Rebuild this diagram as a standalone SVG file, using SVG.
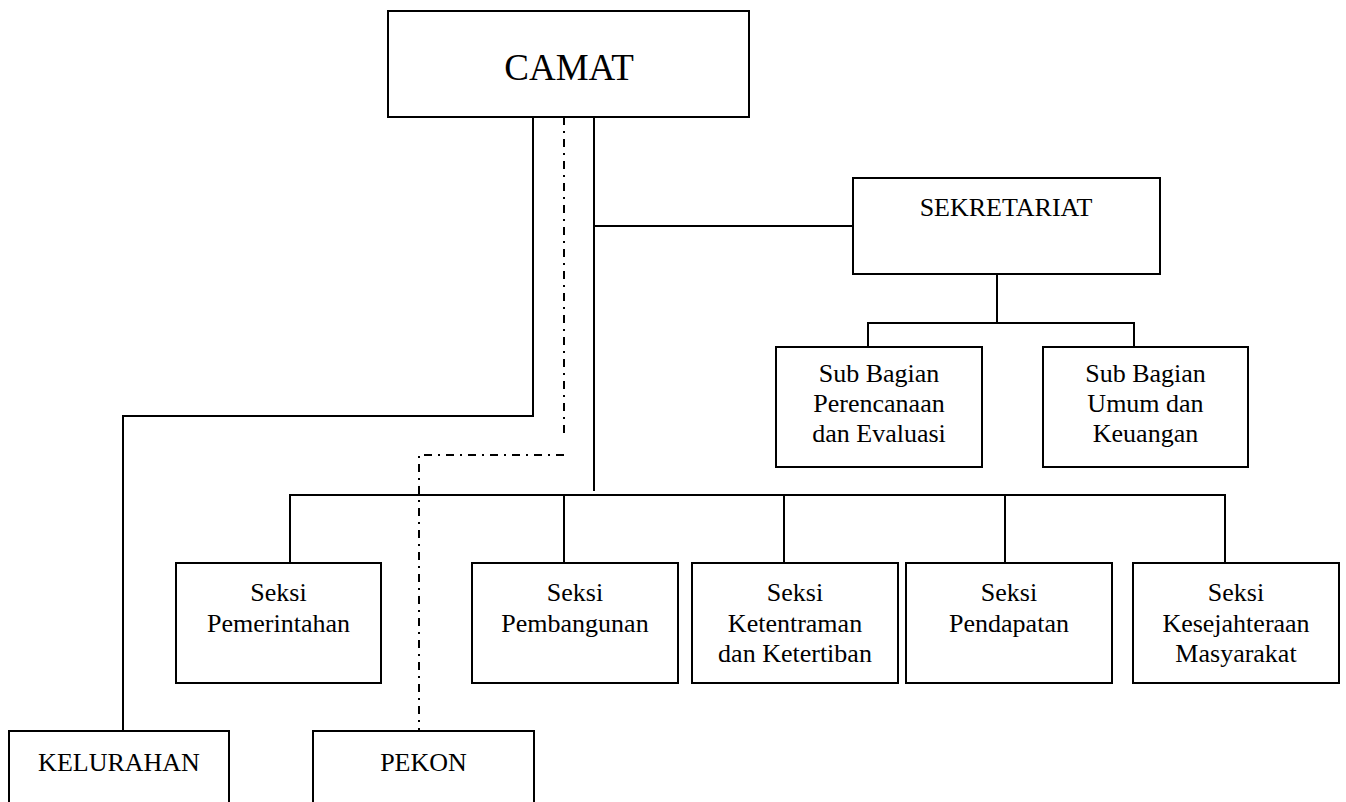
<svg xmlns="http://www.w3.org/2000/svg" width="1346" height="802" viewBox="0 0 1346 802">
<style>
.box{fill:#fff;stroke:#000;stroke-width:2}
.ln{fill:none;stroke:#000;stroke-width:2}
.dd{fill:none;stroke:#000;stroke-width:2;stroke-dasharray:8 6 2 6}
text{font-family:"Liberation Serif","Times New Roman",serif;fill:#000;text-anchor:middle}
.t26{font-size:26px}
</style>
<rect width="1346" height="802" fill="#fff"/>
<g id="connectors">
<polyline class="ln" points="533,117 533,416 123,416 123,731"/>
<line class="ln" x1="594" y1="117" x2="594" y2="491"/>
<line class="ln" x1="594" y1="226" x2="853" y2="226"/>
<line class="dd" x1="564" y1="117" x2="564" y2="436"/>
<polyline class="dd" points="564,455 419,455 419,731"/>
<line class="ln" x1="997" y1="274" x2="997" y2="323"/>
<polyline class="ln" points="868,347 868,323 1134,323 1134,347"/>
<polyline class="ln" points="290,563 290,495 1225,495 1225,563"/>
<line class="ln" x1="564" y1="495" x2="564" y2="563"/>
<line class="ln" x1="784" y1="495" x2="784" y2="563"/>
<line class="ln" x1="1005" y1="495" x2="1005" y2="563"/>
</g>
<g id="camat">
<rect class="box" x="388" y="11" width="361" height="106"/>
<text x="569" y="80" font-size="37">CAMAT</text>
</g>
<g id="sekretariat">
<rect class="box" x="853" y="178" width="307" height="96"/>
<text class="t26" x="1006" y="216">SEKRETARIAT</text>
</g>
<g id="subbag-perencanaan">
<rect class="box" x="776" y="347" width="206" height="120"/>
<text class="t26" x="879" y="382">Sub Bagian</text>
<text class="t26" x="879" y="412">Perencanaan</text>
<text class="t26" x="879" y="442">dan Evaluasi</text>
</g>
<g id="subbag-umum">
<rect class="box" x="1043" y="347" width="205" height="120"/>
<text class="t26" x="1145.5" y="382">Sub Bagian</text>
<text class="t26" x="1145.5" y="412">Umum dan</text>
<text class="t26" x="1145.5" y="442">Keuangan</text>
</g>
<g id="seksi-pemerintahan">
<rect class="box" x="176" y="563" width="205" height="120"/>
<text class="t26" x="278.5" y="601">Seksi</text>
<text class="t26" x="278.5" y="632">Pemerintahan</text>
</g>
<g id="seksi-pembangunan">
<rect class="box" x="472" y="563" width="206" height="120"/>
<text class="t26" x="575" y="601">Seksi</text>
<text class="t26" x="575" y="632">Pembangunan</text>
</g>
<g id="seksi-ketentraman">
<rect class="box" x="692" y="563" width="206" height="120"/>
<text class="t26" x="795" y="601">Seksi</text>
<text class="t26" x="795" y="632">Ketentraman</text>
<text class="t26" x="795" y="662">dan Ketertiban</text>
</g>
<g id="seksi-pendapatan">
<rect class="box" x="906" y="563" width="206" height="120"/>
<text class="t26" x="1009" y="601">Seksi</text>
<text class="t26" x="1009" y="632">Pendapatan</text>
</g>
<g id="seksi-kesejahteraan">
<rect class="box" x="1133" y="563" width="206" height="120"/>
<text class="t26" x="1236" y="601">Seksi</text>
<text class="t26" x="1236" y="632">Kesejahteraan</text>
<text class="t26" x="1236" y="662">Masyarakat</text>
</g>
<g id="kelurahan">
<rect class="box" x="9" y="731" width="220" height="80"/>
<text class="t26" x="119" y="771">KELURAHAN</text>
</g>
<g id="pekon">
<rect class="box" x="313" y="731" width="221" height="80"/>
<text class="t26" x="423.5" y="771">PEKON</text>
</g>
</svg>
